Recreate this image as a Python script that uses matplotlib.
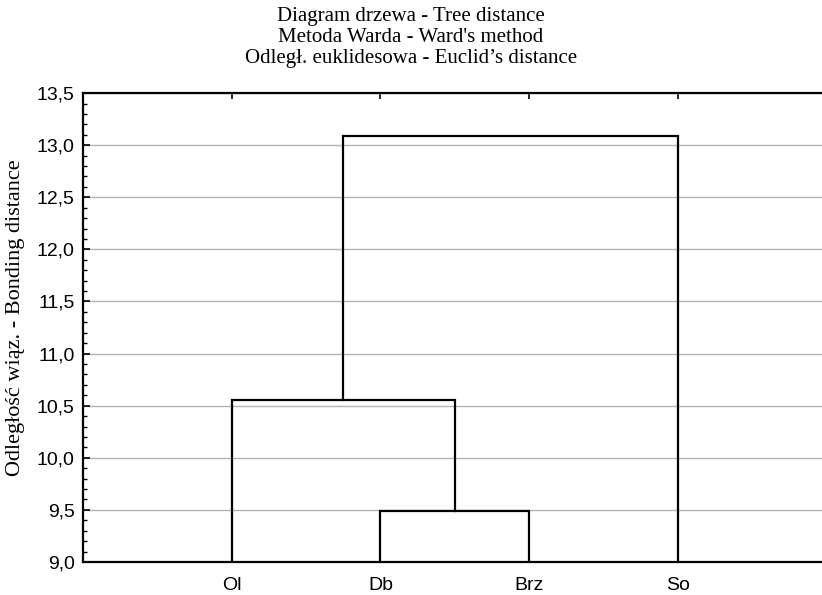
## dendrogram (Ward's method, euclidean distance)

import numpy as np
import matplotlib
matplotlib.use("Agg")
import matplotlib.pyplot as plt
from matplotlib.ticker import MultipleLocator, FuncFormatter

leaves = ["Ol", "Db", "Brz", "So"]
# merges: (left member, right member, bonding distance); members >= len(leaves) are earlier clusters
merge_left = [1, 0, 5]
merge_right = [2, 4, 3]
merge_height = [9.49, 10.55, 13.09]

title_lines = ["Diagram drzewa - Tree distance",
               "Metoda Warda - Ward's method",
               "Odległ. euklidesowa - Euclid\u2019s distance"]
y_label = "Odległość wiąz. - Bonding distance"
y_min, y_max = 9.0, 13.5

fig = plt.figure(figsize=(8.22, 5.95), dpi=100)
ax = fig.add_axes([0.101, 0.0555, 0.899, 0.788])

# x position and height of each node
pos = {i: i + 1.0 for i in range(len(leaves))}
top = {i: y_min for i in range(len(leaves))}
for k, (a, b, h) in enumerate(zip(merge_left, merge_right, merge_height)):
    node = len(leaves) + k
    ax.plot([pos[a], pos[a], pos[b], pos[b]], [top[a], h, h, top[b]],
            color="black", lw=1.6, solid_joinstyle="miter", zorder=3)
    pos[node] = (pos[a] + pos[b]) / 2
    top[node] = h

ax.set_xlim(0, 4.97)
ax.set_ylim(y_min, y_max)
ax.set_xticks(range(1, len(leaves) + 1))
ax.set_xticklabels(leaves, family="Liberation Sans", fontsize=14)
ax.yaxis.set_major_locator(MultipleLocator(0.5))
ax.yaxis.set_minor_locator(MultipleLocator(0.1))
ax.yaxis.set_major_formatter(FuncFormatter(lambda v, p: f"{v:.1f}".replace(".", ",")))
for t in ax.get_yticklabels():
    t.set_family("Liberation Sans")
    t.set_fontsize(14)
ax.tick_params(axis="y", which="major", direction="in", length=5, width=1.2, pad=6)
ax.tick_params(axis="y", which="minor", direction="in", length=3, width=1.0)
ax.tick_params(axis="x", which="major", direction="in", length=4, width=1.2,
               top=True, bottom=False, pad=11)
ax.grid(axis="y", which="major", color="#b4b4b4", lw=1.0, zorder=0)
ax.spines["right"].set_visible(False)
for s in ["left", "top", "bottom"]:
    ax.spines[s].set_linewidth(1.6)

ax.set_ylabel(y_label, family="Liberation Serif", fontsize=16)
ax.yaxis.set_label_coords(-0.078, 0.522)
fig.text(0.5, 0.988, "\n".join(title_lines), ha="center", va="top",
         family="Liberation Serif", fontsize=15, linespacing=1.13)

fig.savefig("out.png", dpi=100)
